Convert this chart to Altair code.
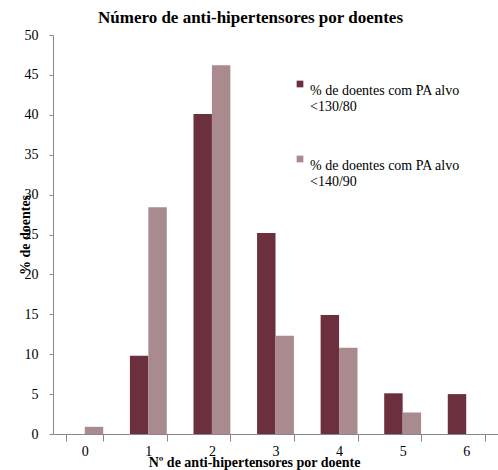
import altair as alt
import pandas as pd

categorias = ["0", "1", "2", "3", "4", "5", "6"]
serie_130 = [0, 9.8, 40.1, 25.2, 14.9, 5.1, 5.0]
serie_140 = [0.9, 28.4, 46.2, 12.3, 10.8, 2.7, 0]
nome_130 = "% de doentes com PA alvo <130/80"
nome_140 = "% de doentes com PA alvo <140/90"
cores = ["#6b2f3d", "#a98a8f"]

linhas = []
for c, a, b in zip(categorias, serie_130, serie_140):
    linhas.append({"n": c, "serie": nome_130, "valor": a})
    linhas.append({"n": c, "serie": nome_140, "valor": b})
df = pd.DataFrame(linhas)

fonte = "Liberation Serif"

chart = alt.Chart(df).mark_bar(strokeWidth=0).encode(
    x=alt.X("n:N", sort=categorias,
            scale=alt.Scale(paddingInner=0.42, paddingOuter=0.21),
            axis=alt.Axis(title="Nº de anti-hipertensores por doente", labelAngle=0,
                          tickBand="extent", tickSize=7, labelPadding=3,
                          titlePadding=-3, titleX=201, titleFontSize=14,
                          titleFontWeight="bold")),
    xOffset=alt.XOffset("serie:N", sort=[nome_130, nome_140]),
    y=alt.Y("valor:Q", scale=alt.Scale(domain=[0, 50], nice=False),
            axis=alt.Axis(title="% de doentes", values=list(range(0, 51, 5)),
                          tickSize=4, labelPadding=11, titlePadding=-8, grid=False,
                          titleFontSize=14, titleFontWeight="bold")),
    color=alt.Color("serie:N", sort=[nome_130, nome_140],
                    scale=alt.Scale(domain=[nome_130, nome_140], range=cores),
                    legend=alt.Legend(title=None, orient="none", legendX=240, legendY=42,
                                      symbolType="square", symbolSize=45,
                                      symbolStrokeWidth=0, rowPadding=38,
                                      labelExpr="[slice(datum.label, 0, 24), slice(datum.label, 25)]",
                                      labelFontSize=14, labelFont=fonte, labelLimit=300,
                                      labelBaseline="top", labelOffset=3)),
).properties(
    width=445,
    height=399,
    title=alt.TitleParams("Número de anti-hipertensores por doentes", font=fonte,
                          fontSize=17, fontWeight="bold", anchor="middle", dx=-25,
                          offset=1),
    padding={"left": 53, "top": 35, "right": 0, "bottom": 36},
    autosize=alt.AutoSizeParams(type="none"),
).configure_view(stroke=None).configure_axis(
    labelFont=fonte, titleFont=fonte, labelFontSize=14, titleFontSize=14,
    domainColor="#888888", tickColor="#888888", labelColor="#000000", titleColor="#000000",
).configure_title(color="#000000")

chart.save("out.html", embed_options={"renderer": "svg", "actions": False})
